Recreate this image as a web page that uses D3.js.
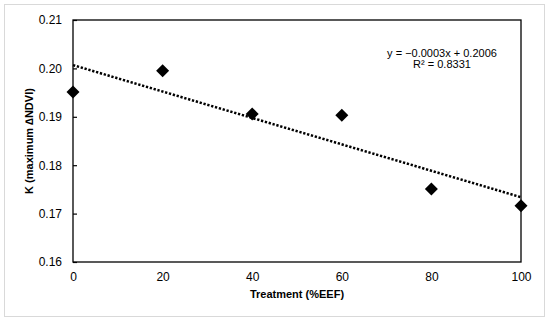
<!DOCTYPE html>
<html>
<head>
<meta charset="utf-8">
<script src="https://cdn.jsdelivr.net/npm/d3@7"></script>
<style>
  body { margin: 0; background: #fff; }
  text { font-family: "Liberation Sans", Arial, sans-serif; fill: #000; }
</style>
</head>
<body>
<div id="chart"></div>
<script>
// dados
var treatment = [0, 20, 40, 60, 80, 100];
var kValues = [0.1951, 0.1995, 0.1906, 0.1903, 0.1751, 0.1716];
var yTicks = [0.16, 0.17, 0.18, 0.19, 0.20, 0.21];
var xTicks = [0, 20, 40, 60, 80, 100];
var eqLines = ["y = \u22120.0003x + 0.2006", "R\u00B2 = 0.8331"];

var width = 550, height = 322;
var margin = {left: 73, right: 29, top: 20, bottom: 60};

var svg = d3.select("#chart").append("svg")
    .attr("width", width)
    .attr("height", height);

// moldura externa
svg.append("rect")
    .attr("x", 4.5).attr("y", 4.5)
    .attr("width", 540).attr("height", 312)
    .attr("fill", "#fff")
    .attr("stroke", "#d9d9d9")
    .attr("stroke-width", 1);

var x = d3.scaleLinear().domain([0, 100]).range([margin.left, width - margin.right]);
var y = d3.scaleLinear().domain([0.16, 0.21]).range([height - margin.bottom, margin.top]);

// area do grafico
svg.append("rect")
    .attr("x", x(0)).attr("y", y(0.21))
    .attr("width", x(100) - x(0)).attr("height", y(0.16) - y(0.21))
    .attr("fill", "none")
    .attr("stroke", "#000")
    .attr("stroke-width", 1.3);

// eixo y
var yAxis = svg.append("g")
    .attr("transform", "translate(" + x(0) + ",0)")
    .call(d3.axisLeft(y).tickValues(yTicks).tickFormat(d3.format(".2f")).tickSizeInner(-4).tickSizeOuter(0).tickPadding(11));
yAxis.select(".domain").remove();
yAxis.selectAll("line").attr("stroke", "#000").attr("stroke-width", 1.2);
yAxis.selectAll("text").style("font-size", "12px").attr("fill", "#000")
    .attr("font-family", "Liberation Sans, Arial, sans-serif");

// eixo x
var xAxis = svg.append("g")
    .attr("transform", "translate(0," + y(0.16) + ")")
    .call(d3.axisBottom(x).tickValues(xTicks).tickSize(0).tickPadding(10));
xAxis.select(".domain").remove();
xAxis.selectAll("text").style("font-size", "12px").attr("fill", "#000")
    .attr("font-family", "Liberation Sans, Arial, sans-serif");

// titulos
svg.append("text")
    .attr("x", (x(0) + x(100)) / 2)
    .attr("y", 298)
    .attr("text-anchor", "middle")
    .style("font-size", "11px")
    .style("font-weight", "bold")
    .text("Treatment (%EEF)");

svg.append("text")
    .attr("transform", "translate(33," + ((y(0.16) + y(0.21)) / 2) + ") rotate(-90)")
    .attr("text-anchor", "middle")
    .style("font-size", "11px")
    .style("font-weight", "bold")
    .text("K (maximum \u2206NDVI)");

// linha de tendencia (minimos quadrados)
var mx = d3.mean(treatment), my = d3.mean(kValues);
var sxy = d3.sum(treatment, function(d, i) { return (d - mx) * (kValues[i] - my); });
var sxx = d3.sum(treatment, function(d) { return (d - mx) * (d - mx); });
var slope = sxy / sxx, intercept = my - slope * mx;

svg.append("line")
    .attr("x1", x(0)).attr("y1", y(intercept))
    .attr("x2", x(100)).attr("y2", y(intercept + slope * 100))
    .attr("stroke", "#000")
    .attr("stroke-width", 2.5)
    .attr("stroke-dasharray", "2.3,1.7");

// pontos
svg.selectAll("path.pt")
    .data(treatment)
    .enter()
    .append("path")
    .attr("class", "pt")
    .attr("d", "M0,-6.5L6.5,0L0,6.5L-6.5,0Z")
    .attr("transform", function(d, i) {
        return "translate(" + x(d) + "," + y(kValues[i]) + ")";
    })
    .attr("fill", "#000");

// equacao
svg.selectAll("text.eq")
    .data(eqLines)
    .enter()
    .append("text")
    .attr("class", "eq")
    .attr("x", 442)
    .attr("y", function(d, i) { return 57 + i * 10.5; })
    .attr("text-anchor", "middle")
    .style("font-size", "11px")
    .text(function(d) { return d; });
</script>
</body>
</html>
